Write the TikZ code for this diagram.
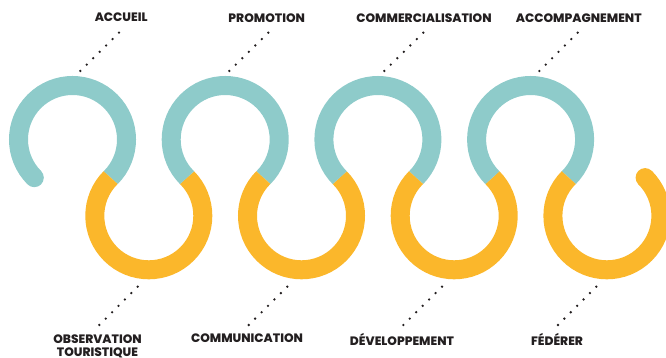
\documentclass[tikz,border=0pt]{standalone}
\usepackage{fontspec}
\newfontfamily\lblfont{Poppins}[UprightFont=* ExtraBold]
\usetikzlibrary{calc}
\definecolor{tealc}{HTML}{8ECBCA}
\definecolor{orangec}{HTML}{FBB72B}
\definecolor{ink}{HTML}{231F20}
\begin{document}
\begin{tikzpicture}[x=1pt,y=1pt,
  tealarc/.style={draw=tealc,line width=19pt,line cap=butt},
  orangearc/.style={draw=orangec,line width=19pt,line cap=butt},
  lbl/.style={font=\lblfont\fontsize{12.2}{13.5}\selectfont,text=ink,inner sep=0pt,align=center},
  dotmark/.style={fill=ink}]
\useasboundingbox (0,0) rectangle (666,358);
% circle centres
\foreach \k in {0,1,2,3} {
  \coordinate (T\k) at ({72.5+152.7*\k},218.5);
  \coordinate (O\k) at ({148.8+152.7*\k},142.2);
}
% arcs
\foreach \k in {0,1,2,3} {
  \draw[tealarc] ($(T\k)+(225:54)$) arc[start angle=225,end angle=-45,radius=54pt];
  \draw[orangearc] ($(O\k)+(135:54)$) arc[start angle=135,end angle=405,radius=54pt];
}
% round ends
\fill[tealc] ($(T0)+(225:54)$) circle (9.5pt);
\fill[orangec] ($(O3)+(45:54)$) circle (9.5pt);
% labels
\node[lbl,anchor=base] (accueil) at (121.2,336) {ACCUEIL};
\node[lbl,anchor=base] (promotion) at (266.7,335.5) {PROMOTION};
\node[lbl,anchor=base] (commercialisation) at (424,335.5) {COMMERCIALISATION};
\node[lbl,anchor=base] (accompagnement) at (578.8,335.5) {ACCOMPAGNEMENT};
\node[lbl,anchor=north] (observation) at (97.5,23.6) {OBSERVATION\\TOURISTIQUE};
\node[lbl,anchor=base] (communication) at (247,15) {COMMUNICATION};
\node[lbl,anchor=base] (developpement) at (402,12) {DÉVELOPPEMENT};
\node[lbl,anchor=base] (federer) at (557,12) {FÉDÉRER};
% dotted leader end points
\coordinate (accueil-s) at (119,325.3);   \coordinate (accueil-e) at (80.3,287);
\coordinate (promotion-s) at (268.3,325.3); \coordinate (promotion-e) at (229.3,287);
\coordinate (commercialisation-s) at (423.3,325.3); \coordinate (commercialisation-e) at (384.3,287);
\coordinate (accompagnement-s) at (577.7,325.3); \coordinate (accompagnement-e) at (539.3,287);
\coordinate (observation-s) at (99.3,33); \coordinate (observation-e) at (137.7,71.3);
\coordinate (communication-s) at (248.7,33); \coordinate (communication-e) at (287.3,71.3);
\coordinate (developpement-s) at (403.3,33); \coordinate (developpement-e) at (442,71.3);
\coordinate (federer-s) at (558,33); \coordinate (federer-e) at (596.3,71.3);
\foreach \n in {accueil,promotion,commercialisation,accompagnement,observation,communication,developpement,federer} {
  \foreach \t in {0,...,6} {
    \fill[dotmark] ($(\n-s)!\t/6!(\n-e)$) circle (1.3pt);
  }
}
\end{tikzpicture}
\end{document}
